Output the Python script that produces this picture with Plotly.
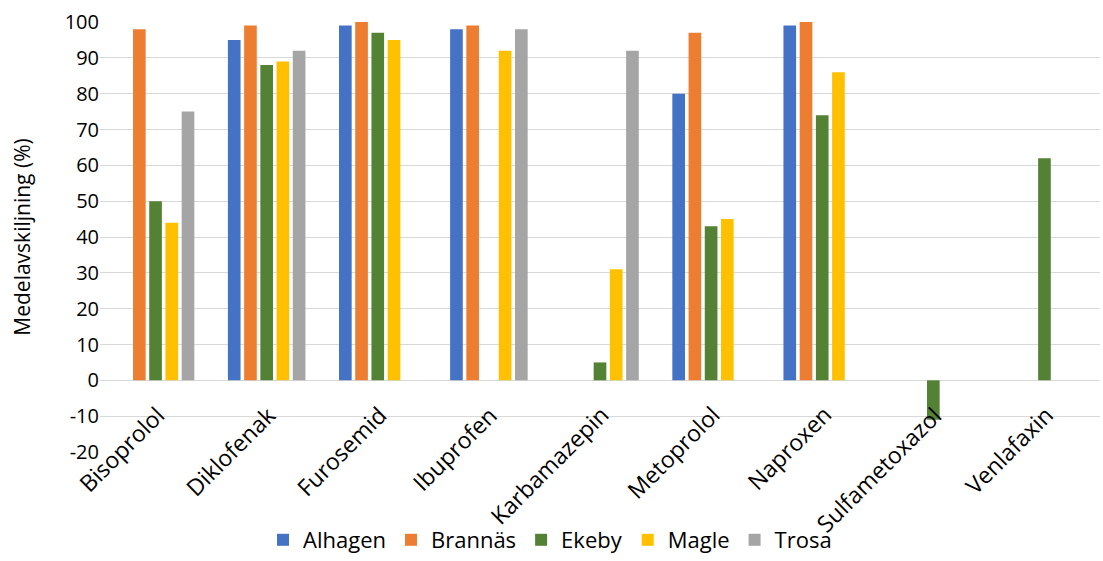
import plotly.graph_objects as go

categories = ["Bisoprolol", "Diklofenak", "Furosemid", "Ibuprofen", "Karbamazepin",
              "Metoprolol", "Naproxen", "Sulfametoxazol", "Venlafaxin"]

alhagen = [None, 95, 99, 98, None, 80, 99, None, None]
brannas = [98, 99, 100, 99, None, 97, 100, None, None]
ekeby = [50, 88, 97, None, 5, 43, 74, -11, 62]
magle = [44, 89, 95, 92, 31, 45, 86, None, None]
trosa = [75, 92, None, 98, 92, None, None, None, None]

y_ticks = list(range(-20, 101, 10))
y_tick_text = [str(v) for v in y_ticks]  # plain hyphen for negatives

series = [
    ("Alhagen", alhagen, "#4472C4"),
    ("Brannäs", brannas, "#ED7D31"),
    ("Ekeby", ekeby, "#548235"),
    ("Magle", magle, "#FFC000"),
    ("Trosa", trosa, "#A5A5A5"),
]

fig = go.Figure()
for name, vals, color in series:
    fig.add_trace(go.Bar(x=categories, y=vals, name=name, marker_color=color,
                         marker_line_width=0))

# category labels sit just under the zero line, rotated 45 degrees
for cat in categories:
    fig.add_annotation(x=cat, y=0, xref="x", yref="y", text=cat, showarrow=False,
                       textangle=-45, xanchor="right", yanchor="top",
                       xshift=18, yshift=-16, font=dict(size=23))

font_family = "Open Sans, Liberation Sans, sans-serif"
fig.update_layout(
    width=1103, height=561,
    margin=dict(l=100, r=3, t=22, b=109, autoexpand=False),
    plot_bgcolor="white", paper_bgcolor="white",
    barmode="group", bargap=0.27, bargroupgap=0.22,
    font=dict(family=font_family, size=20, color="#000000"),
    legend=dict(orientation="h", x=0.45, xanchor="center",
                yref="container", y=0.0, yanchor="bottom",
                font=dict(size=22), itemwidth=30, traceorder="normal"),
    xaxis=dict(range=[-0.5, len(categories) - 0.5], showticklabels=False,
               showgrid=False, showline=False, ticks="", automargin=False),
    yaxis=dict(range=[-20, 100], tickvals=y_ticks, ticktext=y_tick_text,
               showgrid=True, gridcolor="#D9D9D9",
               zeroline=True, zerolinecolor="#D9D9D9", zerolinewidth=1,
               tickfont=dict(size=20), ticksuffix=" ", automargin=False,
               title=dict(text="Medelavskiljning (%)", font=dict(size=21), standoff=28)),
)

fig.write_html("out.html")
